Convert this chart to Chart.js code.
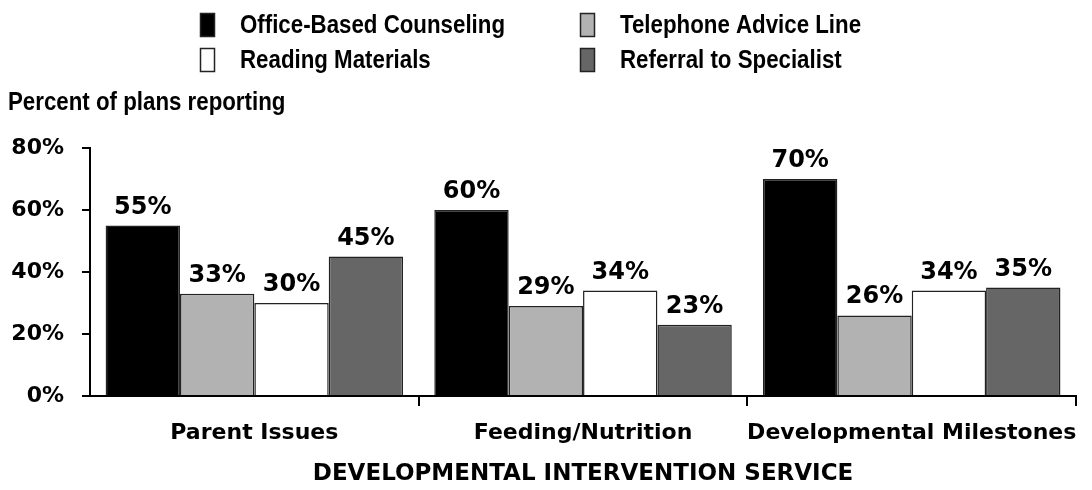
<!DOCTYPE html>
<html>
<head>
<meta charset="utf-8">
<script src="https://cdn.jsdelivr.net/npm/chart.js@4/dist/chart.umd.min.js"></script>
<style>
  html, body { margin: 0; padding: 0; background: #fff; }
  #wrap { width: 1092px; height: 490px; position: relative; }
</style>
</head>
<body>
<div id="wrap"><canvas id="chart"></canvas></div>
<script>
const categories = ['Parent Issues', 'Feeding/Nutrition', 'Developmental Milestones'];
const officeBased = [55, 60, 70];
const telephone = [33, 29, 26];
const reading = [30, 34, 34];
const referral = [45, 23, 35];
const yTicks = [0, 20, 40, 60, 80];

const boldFont = "'DejaVu Sans', Arial, sans-serif";
const narrowFont = "'Liberation Sans', Arial, sans-serif";

// condensed text: a regular bold face squeezed sideways
function squeezed(c, text, x, y, sx) {
  c.save();
  c.translate(x, y);
  c.scale(sx, 1);
  c.fillText(text, 0, 0);
  c.restore();
}

// legend (2 columns, row-major) and the y axis caption drawn on the canvas
const headerPlugin = {
  id: 'header',
  afterDraw(chart) {
    const c = chart.ctx;
    const sets = chart.data.datasets;
    const cols = [200, 580];
    const rows = [25, 60];
    c.save();
    c.font = 'bold 26px ' + narrowFont;
    c.textBaseline = 'middle';
    c.textAlign = 'left';
    const sx = 265 / c.measureText('Office-Based Counseling').width;
    sets.forEach((ds, i) => {
      const x = cols[i % 2];
      const y = rows[Math.floor(i / 2)];
      c.fillStyle = ds.backgroundColor;
      c.fillRect(x, y - 12, 15, 24);
      c.strokeStyle = '#222';
      c.lineWidth = 1.5;
      c.strokeRect(x + 0.5, y - 11.5, 14, 23);
      c.fillStyle = '#000';
      squeezed(c, ds.label, x + 40, y + 1, sx);
    });
    squeezed(c, 'Percent of plans reporting', 8, 103, sx);
    c.restore();
  }
};

// value labels above each bar
const valueLabels = {
  id: 'valueLabels',
  afterDatasetsDraw(chart) {
    const c = chart.ctx;
    c.save();
    c.font = 'bold 24px ' + boldFont;
    c.fillStyle = '#000';
    c.textAlign = 'center';
    c.textBaseline = 'alphabetic';
    chart.data.datasets.forEach((ds, di) => {
      chart.getDatasetMeta(di).data.forEach((bar, i) => {
        c.fillText(ds.data[i] + '%', bar.x, bar.y - 12);
      });
    });
    c.restore();
  }
};

new Chart(document.getElementById('chart'), {
  type: 'bar',
  data: {
    labels: categories,
    datasets: [
      { label: 'Office-Based Counseling', data: officeBased, backgroundColor: '#000000' },
      { label: 'Telephone Advice Line', data: telephone, backgroundColor: '#b2b2b2' },
      { label: 'Reading Materials', data: reading, backgroundColor: '#ffffff' },
      { label: 'Referral to Specialist', data: referral, backgroundColor: '#666666' }
    ]
  },
  options: {
    responsive: true,
    maintainAspectRatio: false,
    animation: false,
    datasets: {
      bar: {
        categoryPercentage: 0.905,
        barPercentage: 1,
        borderColor: '#222',
        borderWidth: 1.5
      }
    },
    layout: { autoPadding: false, padding: { top: 148, left: 11, right: 10, bottom: 2 } },
    plugins: {
      legend: { display: false },
      tooltip: { enabled: false }
    },
    scales: {
      x: {
        grid: {
          offset: true,
          drawOnChartArea: false,
          tickLength: 10,
          lineWidth: 2,
          color: ctx => ctx.index === 0 ? 'rgba(0,0,0,0)' : '#000'
        },
        border: { display: true, color: '#000', width: 2 },
        ticks: {
          color: '#000',
          padding: 14,
          maxRotation: 0,
          minRotation: 0,
          autoSkip: false,
          font: { family: boldFont, size: 22, weight: 'bold' }
        },
        title: {
          display: true,
          text: 'DEVELOPMENTAL INTERVENTION SERVICE',
          color: '#000',
          padding: { top: 0, bottom: 0 },
          font: { family: boldFont, size: 23, weight: 'bold' }
        }
      },
      y: {
        min: 0,
        max: 80,
        afterBuildTicks: axis => { axis.ticks = yTicks.map(v => ({ value: v })); },
        afterFit: axis => { axis.width = 79; },
        grid: {
          drawOnChartArea: false,
          tickLength: 8,
          lineWidth: 2,
          color: '#000'
        },
        border: { display: true, color: '#000', width: 2 },
        ticks: {
          color: '#000',
          padding: 18,
          font: { family: boldFont, size: 22, weight: 'bold' },
          callback: v => v + '%'
        }
      }
    }
  },
  plugins: [headerPlugin, valueLabels]
});
</script>
</body>
</html>
